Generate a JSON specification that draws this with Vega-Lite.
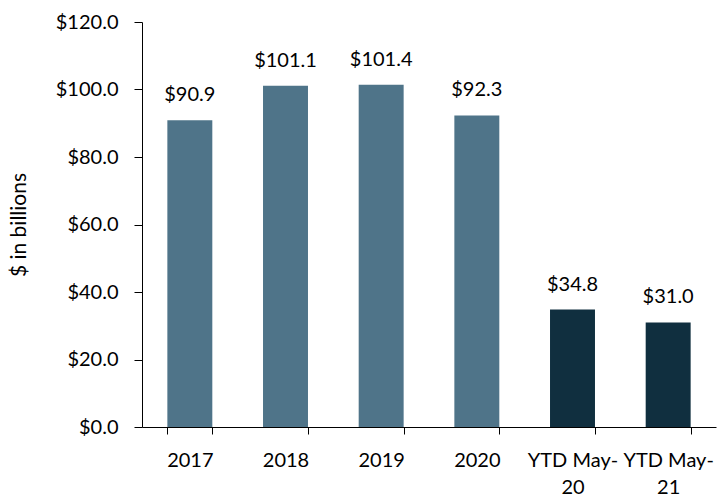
{
  "$schema": "https://vega.github.io/schema/vega-lite/v6.json",
  "autosize": "none",
  "width": 574,
  "height": 405,
  "padding": {"left": 142, "top": 22, "right": 1, "bottom": 70},
  "background": "white",
  "config": {"view": {"stroke": null}, "font": "Lato"},
  "data": {"values": [
    {"period": "2017", "value": 90.9, "kind": "year"},
    {"period": "2018", "value": 101.1, "kind": "year"},
    {"period": "2019", "value": 101.4, "kind": "year"},
    {"period": "2020", "value": 92.3, "kind": "year"},
    {"period": "YTD May-20", "value": 34.8, "kind": "ytd"},
    {"period": "YTD May-21", "value": 31.0, "kind": "ytd"}
  ]},
  "encoding": {
    "x": {"field": "period", "type": "nominal", "sort": null,
      "scale": {"paddingInner": 0.53, "paddingOuter": 0.265},
      "axis": {"title": null, "labelAngle": 0, "domainColor": "black", "tickColor": "black",
        "tickBand": "extent", "tickSize": 7, "labelPadding": 16, "labelFontSize": 20, "labelColor": "black",
        "labelFont": "Lato", "labelLineHeight": 27,
        "labelExpr": "datum.value == 'YTD May-20' ? ['YTD May-', '20'] : datum.value == 'YTD May-21' ? ['YTD May-', '21'] : datum.value"}},
    "y": {"field": "value", "type": "quantitative",
      "scale": {"domain": [0, 120]},
      "axis": {"title": "$ in billions", "titleFontSize": 21, "titleFontWeight": "normal", "titleColor": "black",
        "titlePadding": 26, "titleFont": "Lato",
        "values": [0, 20, 40, 60, 80, 100, 120], "format": "$.1f", "grid": false,
        "domainColor": "black", "tickColor": "black", "tickSize": 8, "labelPadding": 16,
        "labelFontSize": 20, "labelColor": "black", "labelFont": "Lato"}}
  },
  "layer": [
    {"mark": {"type": "bar"},
      "encoding": {"color": {"field": "kind", "type": "nominal",
        "scale": {"domain": ["year", "ytd"], "range": ["#4F7489", "#102F3F"]}, "legend": null}}},
    {"mark": {"type": "text", "baseline": "alphabetic", "dy": -19, "fontSize": 20, "color": "black", "font": "Lato"},
      "encoding": {"text": {"field": "value", "type": "quantitative", "format": "$.1f"}}}
  ]
}
